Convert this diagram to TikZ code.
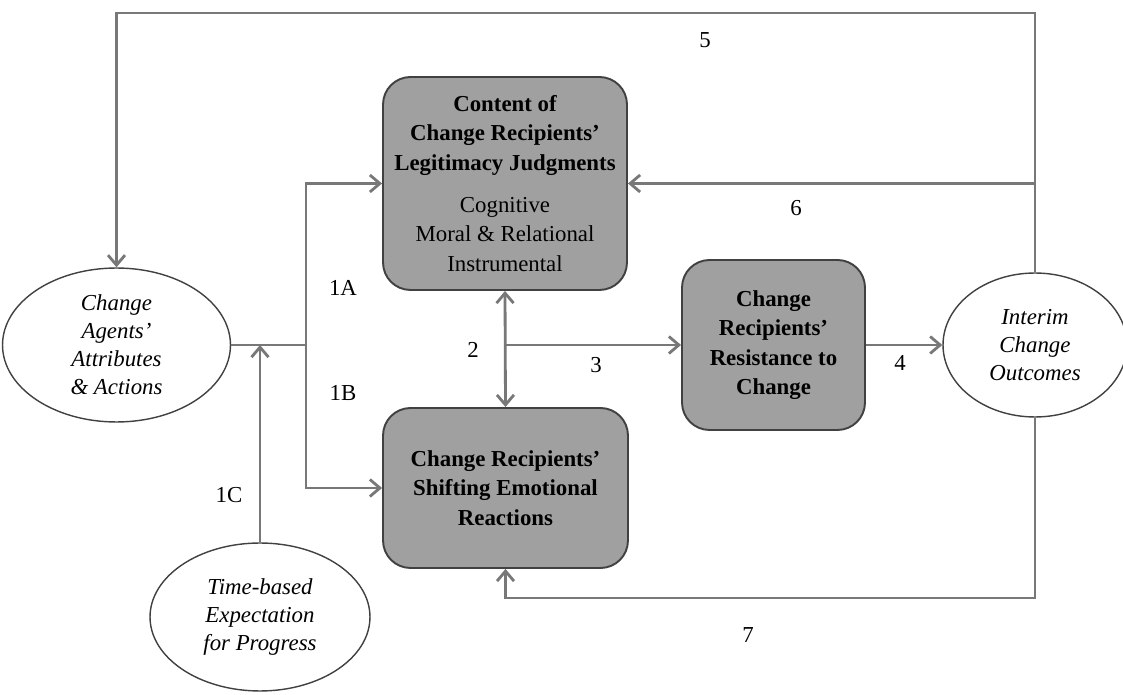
\documentclass[tikz,border=0pt]{standalone}
\usepackage{fontspec}
\setmainfont{Liberation Serif}
\usetikzlibrary{arrows.meta,shapes.geometric,calc}
\definecolor{boxgray}{RGB}{160,160,160}
\definecolor{linegray}{RGB}{120,120,120}
\definecolor{edgegray}{RGB}{65,65,65}
\tikzset{
  box/.style={draw=edgegray, line width=1.1pt, fill=boxgray, rounded corners=0.55cm,
    align=center, inner sep=0pt, font=\fontsize{13}{16.8}\selectfont\bfseries},
  oval/.style={ellipse, draw=edgegray, line width=0.8pt, fill=white, align=center,
    inner sep=0pt, font=\fontsize{13}{15.9}\selectfont\itshape},
  link/.style={draw=linegray, line width=1.6pt, -{Straight Barb[length=2mm,width=3.4mm]}},
  num/.style={font=\fontsize{13}{16}\selectfont},
}

\begin{document}
\begin{tikzpicture}[x=0.02cm,y=-0.02cm]
\useasboundingbox (0,0) rectangle (1123,695);
% boxes
\node [box, minimum width=4.88cm, minimum height=4.26cm] (content) at (505,183.5)
  {Content of\\Change Recipients'\\Legitimacy Judgments\\[7pt]
   \mdseries Cognitive\\\mdseries Moral \& Relational\\\mdseries Instrumental};
\node [box, minimum width=3.66cm, minimum height=3.4cm] (resist) at (773.5,345)
  {Change\\Recipients'\\Resistance to\\Change};
\node [box, minimum width=4.9cm, minimum height=3.2cm] (emotion) at (505.5,488)
  {Change Recipients'\\Shifting Emotional\\Reactions};
% ovals
\node [oval, minimum width=4.56cm, minimum height=3.08cm] (agents) at (116.5,345)
  {Change\\Agents'\\Attributes\\\& Actions};
\node [oval, minimum width=3.68cm, minimum height=2.88cm] (outcome) at (1035,345)
  {Interim\\Change\\Outcomes};
\node [oval, minimum width=4.4cm, minimum height=2.96cm] (timing) at (260,617)
  {Time-based\\Expectation\\for Progress};
% junctions
\coordinate (split) at (306,345);
\coordinate (hub) at (content.south |- resist.west);
\coordinate (topright) at (1035,13);
\coordinate (botright) at (1035,598);
% connectors
\draw [link, -] (agents.east) -- (split);
\draw [link] (split) |- (content.west);
\draw [link] (split) |- (emotion.west);
\draw [link] (timing.north) -- (timing.north |- agents.east);
\draw [link, {Straight Barb[length=2mm,width=3.4mm]}-{Straight Barb[length=2mm,width=3.4mm]}]
  (content.south) -- (emotion.north);
\draw [link] (hub) -- (resist.west);
\draw [link] (resist.east) -- (outcome.west);
\draw [link] (outcome.north) -- (topright) -| (agents.north);
\draw [link] (content.east -| topright) -- (content.east);
\draw [link] (outcome.south) -- (botright) -| (emotion.south);
% labels
\node [num] (l1a) at (343,288) {1A};
\node [num] (l1b) at (343,393) {1B};
\node [num] (l1c) at (229,495) {1C};
\node [num] (l2) at (473,350) {2};
\node [num] (l3) at (596,365) {3};
\node [num] (l4) at (900,363) {4};
\node [num] (l5) at (705,40) {5};
\node [num] (l6) at (796,208) {6};
\node [num] (l7) at (748,635) {7};
\end{tikzpicture}
\end{document}
